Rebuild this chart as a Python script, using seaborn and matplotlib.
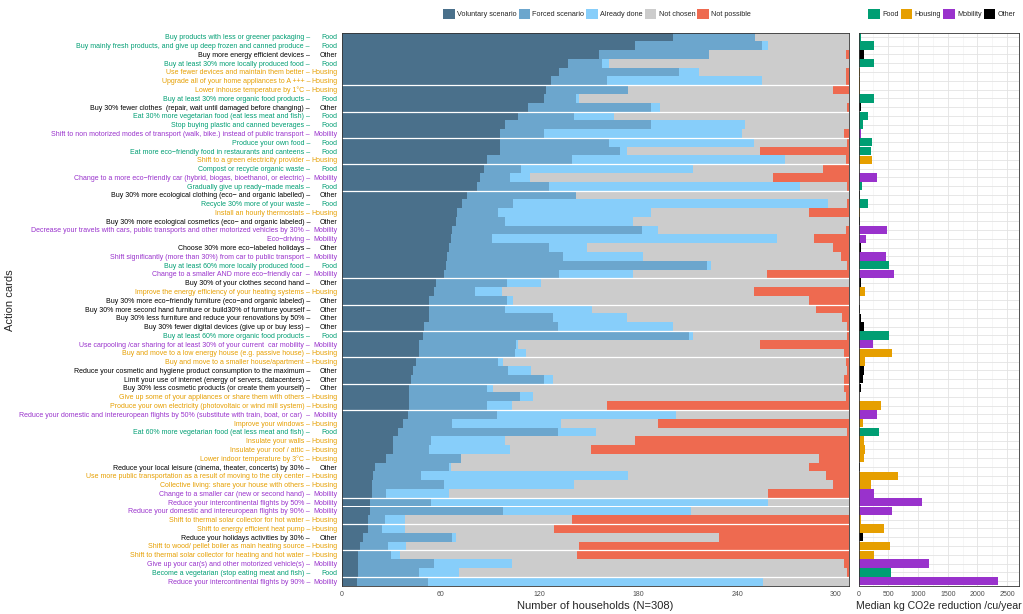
import matplotlib
matplotlib.use("Agg")
import matplotlib.pyplot as plt
import matplotlib.transforms as mtransforms
from matplotlib.patches import Patch
import pandas as pd
import seaborn as sns

actions = [
    "Buy products with less or greener packaging",
    "Buy mainly fresh products, and give up deep frozen and canned produce",
    "Buy more energy efficient devices",
    "Buy at least 30% more locally produced food",
    "Use fewer devices and maintain them better",
    "Upgrade all of your home appliances to A +++",
    "Lower inhouse temperature by 1°C",
    "Buy at least 30% more organic food products",
    "Buy 30% fewer clothes  (repair, wait until damaged before changing)",
    "Eat 30% more vegetarian food (eat less meat and fish)",
    "Stop buying plastic and canned beverages",
    "Shift to non motorized modes of transport (walk, bike.) instead of public transport",
    "Produce your own food",
    "Eat more eco−friendly food in restaurants and canteens",
    "Shift to a green electricity provider",
    "Compost or recycle organic waste",
    "Change to a more eco−friendly car (hybrid, biogas, bioethanol, or electric)",
    "Gradually give up ready−made meals",
    "Buy 30% more ecological clothing (eco− and organic labelled)",
    "Recycle 30% more of your waste",
    "Install an hourly thermostats",
    "Buy 30% more ecological cosmetics (eco− and organic labeled)",
    "Decrease your travels with cars, public transports and other motorized vehicles by 30%",
    "Eco−driving",
    "Choose 30% more eco−labeled holidays",
    "Shift significantly (more than 30%) from car to public transport",
    "Buy at least 60% more locally produced food",
    "Change to a smaller AND more eco−friendly car ",
    "Buy 30% of your clothes second hand",
    "Improve the energy efficiency of your heating systems",
    "Buy 30% more eco−friendly furniture (eco−and organic labeled)",
    "Buy 30% more second hand furniture or build30% of furniture yourself",
    "Buy 30% less furniture and reduce your renovations by 50%",
    "Buy 30% fewer digital devices (give up or buy less)",
    "Buy at least 60% more organic food products",
    "Use carpooling /car sharing for at least 30% of your current  car mobility",
    "Buy and move to a low energy house (e.g. passive house)",
    "Buy and move to a smaller house/apartment",
    "Reduce your cosmetic and hygiene product consumption to the maximum",
    "Limit your use of internet (energy of servers, datacenters)",
    "Buy 30% less cosmetic products (or create them yourself)",
    "Give up some of your appliances or share them with others",
    "Produce your own electricity (photovoltaic or wind mill system)",
    "Reduce your domestic and intereuropean flights by 50% (substitute with train, boat, or car) ",
    "Improve your windows",
    "Eat 60% more vegetarian food (eat less meat and fish)",
    "Insulate your walls",
    "Insulate your roof / attic",
    "Lower indoor temperature by 3°C",
    "Reduce your local leisure (cinema, theater, concerts) by 30%",
    "Use more public transportation as a result of moving to the city center",
    "Collective living: share your house with others",
    "Change to a smaller car (new or second hand)",
    "Reduce your intercontinental flights by 50%",
    "Reduce your domestic and intereuropean flights by 90%",
    "Shift to thermal solar collector for hot water",
    "Shift to energy efficient heat pump",
    "Reduce your holidays activities by 30%",
    "Shift to wood/ pellet boiler as main heating source",
    "Shift to thermal solar collector for heating and hot water",
    "Give up your car(s) and other motorized vehicle(s)",
    "Become a vegetarian (stop eating meat and fish)",
    "Reduce your intercontinental flights by 90%",
]

categories = [
    "Food", "Food", "Other", "Food", "Housing", "Housing", "Housing", "Food", "Other", "Food",
    "Food", "Mobility", "Food", "Food", "Housing", "Food", "Mobility", "Food", "Other", "Food",
    "Housing", "Other", "Mobility", "Mobility", "Other", "Mobility", "Food", "Mobility", "Other", "Housing",
    "Other", "Other", "Other", "Other", "Food", "Mobility", "Housing", "Housing", "Other", "Other",
    "Other", "Housing", "Housing", "Mobility", "Housing", "Food", "Housing", "Housing", "Housing", "Other",
    "Housing", "Housing", "Mobility", "Mobility", "Mobility", "Housing", "Housing", "Other", "Housing", "Housing",
    "Mobility", "Food", "Mobility",
]

voluntary = [201, 178, 156, 137, 132, 127, 124, 123, 113, 107,
             99, 96, 96, 96, 88, 86, 84, 82, 76, 73,
             70, 69, 67, 66, 65, 64, 63, 62, 57, 56,
             53, 53, 53, 50, 49, 47, 47, 45, 43, 42,
             41, 41, 41, 40, 37, 34, 31, 31, 27, 20,
             19, 18, 18, 17, 17, 16, 16, 13, 11, 10,
             10, 10, 9]
forced = [50, 77, 67, 21, 73, 34, 50, 19, 75, 34,
          89, 27, 66, 73, 52, 23, 18, 44, 66, 31,
          25, 30, 115, 25, 61, 70, 159, 70, 43, 25,
          47, 46, 75, 81, 162, 59, 58, 50, 58, 81,
          47, 67, 47, 54, 30, 97, 23, 22, 45, 45,
          29, 44, 9, 37, 81, 10, 8, 54, 17, 20,
          46, 37, 43]
already_done = [0, 4, 0, 4, 12, 94, 0, 2, 5, 24,
                57, 120, 88, 4, 129, 104, 12, 152, 0, 191,
                93, 78, 10, 173, 23, 49, 2, 45, 21, 16,
                4, 53, 45, 70, 2, 1, 7, 3, 14, 5,
                4, 8, 15, 109, 66, 23, 45, 49, 0, 1,
                126, 79, 38, 205, 114, 12, 14, 2, 11, 5,
                47, 24, 204]
not_chosen = [57, 49, 83, 146, 89, 51, 124, 164, 114, 143,
              63, 62, 57, 81, 37, 79, 148, 29, 166, 12,
              96, 131, 114, 23, 149, 120, 83, 81, 187, 153,
              180, 136, 131, 106, 94, 147, 193, 208, 192, 177,
              213, 190, 58, 105, 59, 153, 79, 49, 218, 218,
              120, 157, 194, 49, 96, 102, 91, 160, 105, 108,
              202, 236, 52]
not_possible = [0, 0, 2, 0, 2, 2, 10, 0, 1, 0,
                0, 3, 1, 54, 2, 16, 46, 1, 0, 1,
                24, 0, 2, 21, 10, 5, 1, 50, 0, 58,
                24, 20, 4, 1, 1, 54, 3, 2, 1, 3,
                3, 2, 147, 0, 116, 1, 130, 157, 18, 24,
                14, 10, 49, 0, 0, 168, 179, 79, 164, 165,
                3, 1, 0]

median_reduction = [34, 263, 95, 263, 20, 30, 20, 263, 34, 168,
                    84, 45, 224, 212, 224, 10, 319, 61, 20, 168,
                    30, 20, 475, 134, 34, 464, 514, 604, 34, 117,
                    10, 22, 34, 95, 514, 252, 565, 117, 95, 73,
                    50, 15, 380, 319, 84, 352, 95, 117, 95, 22,
                    671, 207, 268, 1073, 570, 45, 430, 73, 537, 263,
                    1180, 548, 2348]

status_names = ["Voluntary scenario", "Forced scenario", "Already done", "Not chosen", "Not possible"]
status_colors = ["#4A708B", "#6CA6CD", "#87CEFA", "#CCCCCC", "#EE6A50"]
cat_names = ["Food", "Housing", "Mobility", "Other"]
cat_colors = {"Food": "#009E73", "Housing": "#E69F00", "Mobility": "#9932CC", "Other": "#000000"}
# rows after which the white separator shows up in the original
gap_after = [6, 9, 12, 15, 18, 28, 31, 34, 37, 40, 43, 53, 56, 59, 62]

sns.set_style("white")
plt.rcParams["font.family"] = ["Liberation Sans", "DejaVu Sans"]

df = pd.DataFrame({
    "row": range(len(actions)),
    "action": actions,
    "category": categories,
    "Voluntary scenario": voluntary,
    "Forced scenario": forced,
    "Already done": already_done,
    "Not chosen": not_chosen,
    "Not possible": not_possible,
    "median": median_reduction,
})
cum = df[status_names].cumsum(axis=1)
n = len(df)

fig = plt.figure(figsize=(10.23, 6.14), dpi=100)
ax = fig.add_axes([342 / 1023, 1 - 585.5 / 614, 507 / 1023, 553 / 614])
ax2 = fig.add_axes([858.5 / 1023, 1 - 585.5 / 614, 160 / 1023, 553 / 614])

# stacked bars: draw cumulative totals from the largest down
for name, col in reversed(list(zip(status_names, status_colors))):
    sns.barplot(x=cum[name], y=df["row"], orient="h", color=col, saturation=1,
                width=1, linewidth=0, errorbar=None, ax=ax)

for r in gap_after:
    ax.axhline(r - 0.5, color="white", lw=0.9)

ax.set_xlim(0, 308)
ax.set_ylim(n - 0.5, -0.5)
ax.set_xticks([0, 60, 120, 180, 240, 300])
ax.tick_params(axis="x", labelsize=5, colors="#4D4D4D", length=2.5, pad=1.5)
ax.set_yticks(range(n))
ax.set_yticklabels(df["category"], fontsize=5)
for lab, c in zip(ax.get_yticklabels(), df["category"]):
    lab.set_color(cat_colors[c])
ax.tick_params(axis="y", length=2.5, pad=0.8, color="#333333")
ax.set_xlabel("Number of households (N=308)", fontsize=8, labelpad=2)
ax.set_ylabel("")
for s in ax.spines.values():
    s.set_color("#333333")
    s.set_linewidth(0.6)

offset = mtransforms.ScaledTranslation(-32 / 100, 0, fig.dpi_scale_trans)
trans = ax.get_yaxis_transform() + offset
for i, (a, c) in enumerate(zip(df["action"], df["category"])):
    ax.text(0, i, a + " –", transform=trans, ha="right", va="center_baseline",
            fontsize=5, color=cat_colors[c])

fig.text(10 / 1023, 1 - 300 / 614, "Action cards", rotation=90, fontsize=8,
         ha="center", va="center")

# right panel: median reduction
sns.barplot(x=df["median"], y=df["row"], hue=df["category"], palette=cat_colors,
            hue_order=cat_names, orient="h", dodge=False, saturation=1, width=0.95,
            linewidth=0, errorbar=None, legend=False, ax=ax2)
ax2.set_xlim(0, 2690)
ax2.set_ylim(n - 0.5, -0.5)
ax2.set_xticks([0, 500, 1000, 1500, 2000, 2500])
ax2.set_xticks([250, 750, 1250, 1750, 2250], minor=True)
ax2.set_yticks(range(n))
ax2.set_yticklabels([])
ax2.tick_params(axis="y", length=0)
ax2.tick_params(axis="x", which="major", labelsize=5, colors="#4D4D4D", length=2.5, pad=1.5)
ax2.tick_params(axis="x", which="minor", length=0)
ax2.grid(True, which="major", color="#E3E3E3", lw=0.6)
ax2.grid(True, which="minor", axis="x", color="#EFEFEF", lw=0.4)
ax2.set_axisbelow(True)
ax2.set_xlabel("Median kg CO2e reduction /cu/year", fontsize=7.6, labelpad=2)
ax2.set_ylabel("")
for s in ax2.spines.values():
    s.set_color("#333333")
    s.set_linewidth(0.6)

h1 = [Patch(facecolor=c, edgecolor="none", label=l) for l, c in zip(status_names, status_colors)]
fig.legend(handles=h1, loc="center", bbox_to_anchor=(597 / 1023, 1 - 14 / 614), ncol=5,
           frameon=False, fontsize=5.2, handlelength=1.6, handleheight=1.6,
           handletextpad=0.3, columnspacing=0.3)
h2 = [Patch(facecolor=cat_colors[c], edgecolor="none", label=c) for c in cat_names]
fig.legend(handles=h2, loc="center", bbox_to_anchor=(942 / 1023, 1 - 14 / 614), ncol=4,
           frameon=False, fontsize=5.2, handlelength=1.6, handleheight=1.6,
           handletextpad=0.3, columnspacing=0.3)

fig.savefig("out.png", dpi=100)
